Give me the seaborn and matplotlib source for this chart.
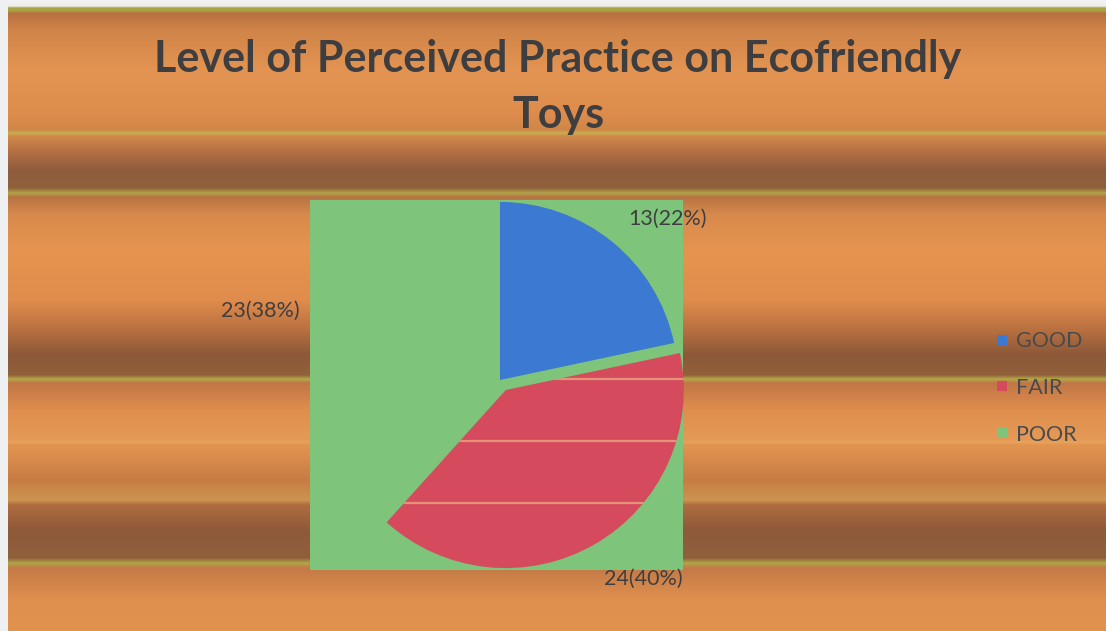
import numpy as np
import matplotlib
matplotlib.use("Agg")
import matplotlib.pyplot as plt
from matplotlib.colors import to_rgb
from matplotlib.lines import Line2D
import seaborn as sns

# ---- data ----
categories = ["GOOD", "FAIR", "POOR"]
counts = [13, 24, 23]
title = "Level of Perceived Practice on Ecofriendly\nToys"

sns.set_theme(style="white")
plt.rcParams["font.family"] = ["Lato", "DejaVu Sans"]

palette = sns.color_palette(["#3b79d2", "#d54b5d", "#7ec47a"])
text_color = "#3e3e40"

W, H = 1106, 631
fig = plt.figure(figsize=(W / 100, H / 100), dpi=100)

# ---- copper-tube style banded background (pixel rows from the top) ----
stops = [
    (0, "#f2f2f4"), (6, "#eeeeee"), (8, "#a8a448"), (11, "#a8a040"),
    (13, "#b87040"), (30, "#d08448"), (70, "#e39452"), (115, "#dd8c4c"),
    (130, "#cf8648"), (133, "#c8b050"), (136, "#d08a4a"), (150, "#b87244"),
    (170, "#8e5c3c"), (188, "#90603c"), (193, "#b0a448"), (197, "#b87444"),
    (215, "#d88a4c"), (250, "#e6944f"), (300, "#e08c4c"), (330, "#b87040"),
    (355, "#8c5838"), (375, "#93603c"), (379, "#b4a848"), (383, "#c07646"),
    (410, "#e08e4e"), (440, "#e49a56"), (442, "#e6a45a"), (445, "#e29450"),
    (480, "#c87c44"), (500, "#cc9450"), (505, "#b06c40"), (530, "#8e5a3a"),
    (558, "#90603c"), (563, "#b0a448"), (568, "#c47a46"), (600, "#e0904e"),
    (631, "#e2924f"),
]
ys = np.array([s[0] for s in stops], float)
cols = np.array([to_rgb(s[1]) for s in stops])
rows = np.arange(H) + 0.5
profile = np.stack([np.interp(rows, ys, cols[:, k]) for k in range(3)], axis=1)
img = np.repeat(profile[:, None, :], W, axis=1)
img[:, :8, :] = to_rgb("#eef0f2")  # light left margin
bg = fig.add_axes([0, 0, 1, 1])
bg.imshow(img, extent=(0, W, H, 0), aspect="auto", interpolation="bilinear")
bg.set_xlim(0, W)
bg.set_ylim(H, 0)
bg.axis("off")

# ---- title ----
fig.text(558 / W, 1 - 87 / H, title, ha="center", va="center",
         fontsize=31, fontweight="bold", color=text_color, linespacing=1.5)

# ---- pie with green plot area ----
ax = fig.add_axes([310 / W, 1 - 570 / H, 373 / W, 370 / H])
ax.set_facecolor(palette[2])
explode = [0, 0.065, 0]
wedges, _ = ax.pie(counts, colors=palette, startangle=90, counterclock=False,
                   explode=explode, radius=1, frame=True,
                   wedgeprops=dict(linewidth=0))
ax.set_aspect("auto")
ax.set_xlim(-1.067, 1.028)
ax.set_ylim(-1.067, 1.011)
ax.set_xticks([])
ax.set_yticks([])
for sp in ax.spines.values():
    sp.set_visible(False)

# pale background streaks showing through the FAIR wedge
for yp in (379, 441, 503):
    ln = Line2D([0, 1], [1 - yp / H, 1 - yp / H], transform=fig.transFigure,
                color="#f4dc96", alpha=0.5, linewidth=1.6)
    ln.set_clip_path(wedges[1])
    fig.add_artist(ln)

# ---- data labels ----
total = sum(counts)
labels = [f"{c}({round(100 * c / total)}%)" for c in counts]
label_pos = [(668, 219), (643, 579), (260, 311)]
for lab, (px, py) in zip(labels, label_pos):
    fig.text(px / W, 1 - py / H, lab, ha="center", va="center",
             fontsize=15.5, color=text_color)

# ---- legend ----
handles = [Line2D([], [], marker="s", linestyle="none", markersize=7.5,
                  markerfacecolor=c, markeredgewidth=0) for c in palette]
leg = fig.legend(handles, categories, loc="center left",
                 bbox_to_anchor=(976 / W, 1 - 388 / H), frameon=False,
                 fontsize=15.5, handlelength=0.6, handletextpad=0.35,
                 labelspacing=1.25)
for t in leg.get_texts():
    t.set_color("#4a4a4c")

fig.savefig("out.png", dpi=100)
